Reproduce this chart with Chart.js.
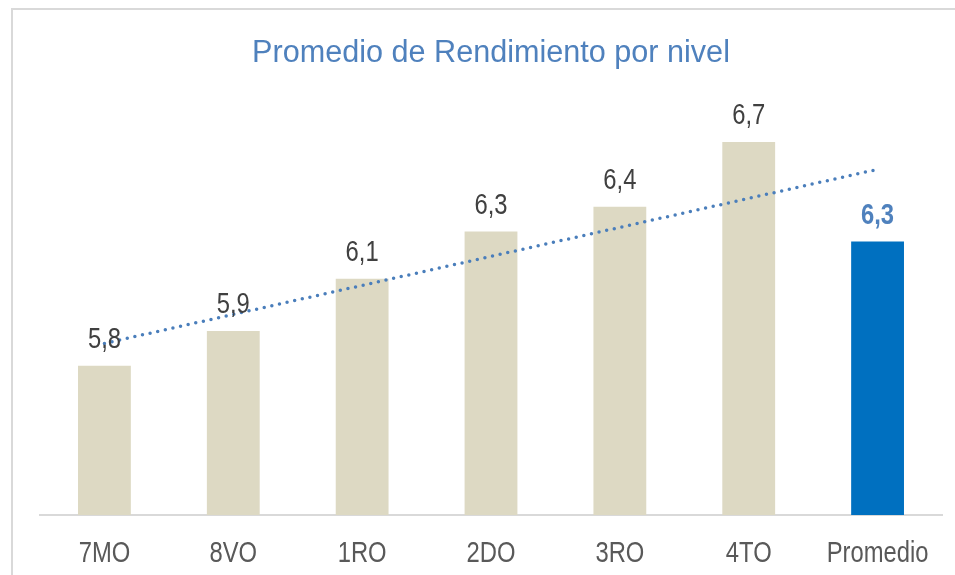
<!DOCTYPE html>
<html>
<head>
<meta charset="utf-8">
<script src="https://cdn.jsdelivr.net/npm/chart.js@4"></script>
<style>
    html, body { margin: 0; padding: 0; background: #fff; overflow: hidden; }
    #wrap { position: relative; width: 955px; height: 575px; overflow: hidden; }
    #frame { position: absolute; left: 11px; top: 8px; width: 2000px; height: 2000px;
             border-left: 2px solid #d9d9d9; border-top: 2px solid #d9d9d9; }
    canvas { position: absolute; left: 0; top: 0; }
</style>
</head>
<body>
<div id="wrap">
    <div id="frame"></div>
    <canvas id="chart" width="955" height="575"></canvas>
</div>
<script>
let categories = ['7MO', '8VO', '1RO', '2DO', '3RO', '4TO', 'Promedio']
let values = [5.8, 5.94, 6.15, 6.34, 6.44, 6.7, 6.3]
let valueLabels = ['5,8', '5,9', '6,1', '6,3', '6,4', '6,7', '6,3']
// trend line end points, joined straight
let trendValues = [5.89, null, null, null, null, null, 6.59]

let barColors = ['#DDD9C3', '#DDD9C3', '#DDD9C3', '#DDD9C3', '#DDD9C3', '#DDD9C3', '#0070C0']
let sansFont = "'Liberation Sans', Arial, sans-serif"

// Arial Narrow look-alike: squeeze Liberation Sans sideways
function drawNarrow(ctx, text, x, y, font, color) {
    ctx.save()
    ctx.font = font
    ctx.fillStyle = color
    ctx.textAlign = 'center'
    ctx.textBaseline = 'alphabetic'
    ctx.translate(x, y)
    ctx.scale(0.82, 1)
    ctx.fillText(text, 0, 0)
    ctx.restore()
}

// value on top of each bar + category names under the axis
let textPlugin = {
    id: 'narrowText',
    afterDatasetsDraw(chart) {
        let ctx = chart.ctx
        let meta = chart.getDatasetMeta(1)
        meta.data.forEach((bar, i) => {
            let last = i === values.length - 1
            if (last) {
                drawNarrow(ctx, valueLabels[i], bar.x, bar.y - 17, 'bold 29px ' + sansFont, '#4F81BD')
            } else {
                drawNarrow(ctx, valueLabels[i], bar.x, bar.y - 18, '29px ' + sansFont, '#404040')
            }
        })
        let xScale = chart.scales.x
        categories.forEach((name, i) => {
            drawNarrow(ctx, name, xScale.getPixelForTick(i), chart.chartArea.bottom + 47, '29px ' + sansFont, '#595959')
        })
    }
}

new Chart(document.getElementById('chart'), {
    type: 'bar',
    data: {
        labels: categories,
        datasets: [{
            type: 'line',
            data: trendValues,
            spanGaps: true,
            borderColor: '#4A7EBB',
            borderWidth: 3.5,
            borderDash: [0, 7.8],
            borderCapStyle: 'round',
            pointRadius: 0,
            fill: false,
            order: 0
        }, {
            data: values,
            backgroundColor: barColors,
            barPercentage: 0.41,
            categoryPercentage: 1,
            order: 1
        }]
    },
    options: {
        responsive: false,
        animation: false,
        layout: { padding: { left: 40, right: 13, top: 0, bottom: 60 } },
        scales: {
            x: {
                grid: { display: false, drawTicks: false },
                border: { color: '#d9d9d9', width: 2 },
                ticks: { display: false }
            },
            y: {
                display: false,
                min: 5.2,
                max: 6.87
            }
        },
        plugins: {
            legend: { display: false },
            tooltip: { enabled: false },
            title: {
                display: true,
                text: 'Promedio de Rendimiento por nivel',
                color: '#4F81BD',
                font: { family: sansFont, size: 30.6, weight: 'normal' },
                padding: { top: 35, bottom: 28 }
            }
        }
    },
    plugins: [textPlugin]
})
</script>
</body>
</html>
